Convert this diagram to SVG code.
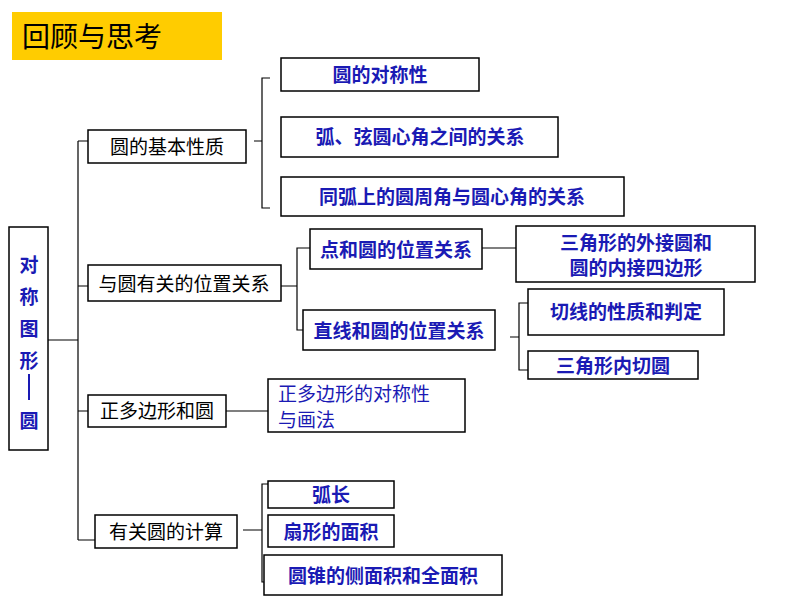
<svg xmlns="http://www.w3.org/2000/svg" width="794" height="596" viewBox="0 0 794 596">
<style>
.b{fill:#fff;stroke:#000;stroke-width:1.5}
.k{font-family:"Liberation Sans","Noto Sans CJK SC",sans-serif;font-size:19px;fill:#000;text-anchor:middle}
.u{font-family:"Liberation Sans","Noto Sans CJK SC",sans-serif;font-size:19px;font-weight:bold;fill:#1a1ab4;text-anchor:middle}
.n{font-family:"Liberation Sans","Noto Sans CJK SC",sans-serif;font-size:19px;fill:#1a1ab4}
.c{fill:none;stroke:#000;stroke-width:1.2}
</style>
<rect width="794" height="596" fill="#fff"/>
<g id="title"><rect x="12" y="12" width="210" height="48" fill="#ffcc00"/><text x="22" y="47" font-family="Liberation Sans,Noto Sans CJK SC,sans-serif" font-size="28">回顾与思考</text></g>
<g id="connectors">
<path class="c" d="M48 340H70M78 141V540M70 340H78M78 141H88M78 286H88M78 411H88M78 540H95"/>
<path class="c" d="M254 141H262M270 78H262V208H270"/>
<path class="c" d="M281 286H297M310 248H297V330H303"/>
<path class="c" d="M482 248H516"/>
<path class="c" d="M510 337H519M528 303H519V370H528"/>
<path class="c" d="M226 411H268"/>
<path class="c" d="M243 530H262M268 484H262V582H264"/>
</g>
<g id="root"><rect class="b" x="9" y="227" width="39" height="223"/>
<text class="u" font-size="23" x="29" y="272">对</text><text class="u" font-size="23" x="29" y="304">称</text><text class="u" font-size="23" x="29" y="336">图</text><text class="u" font-size="23" x="29" y="368">形</text>
<line x1="29" y1="374" x2="29" y2="400" stroke="#1a1ab4" stroke-width="2"/><text class="u" font-size="23" x="29" y="428">圆</text></g>
<g id="n1"><rect class="b" x="88" y="130" width="158" height="33"/><text class="k" x="167" y="154">圆的基本性质</text></g>
<g id="n2"><rect class="b" x="88" y="265" width="193" height="36"/><text class="k" x="184" y="291">与圆有关的位置关系</text></g>
<g id="n3"><rect class="b" x="88" y="395" width="138" height="32"/><text class="k" x="157" y="418">正多边形和圆</text></g>
<g id="n4"><rect class="b" x="95" y="515" width="142" height="33"/><text class="k" x="166" y="539">有关圆的计算</text></g>
<g id="n11"><rect class="b" x="281" y="58" width="198" height="33"/><text class="u" x="380" y="82">圆的对称性</text></g>
<g id="n12"><rect class="b" x="281" y="117" width="277" height="40"/><text class="u" x="420" y="144">弧、弦圆心角之间的关系</text></g>
<g id="n13"><rect class="b" x="281" y="177" width="343" height="39"/><text class="u" x="452" y="204">同弧上的圆周角与圆心角的关系</text></g>
<g id="n21"><rect class="b" x="310" y="229" width="172" height="40"/><text class="u" x="396" y="257">点和圆的位置关系</text></g>
<g id="n211"><rect class="b" x="516" y="226" width="239" height="56"/><text class="u" x="636" y="250">三角形的外接圆和</text><text class="u" x="636" y="275">圆的内接四边形</text></g>
<g id="n22"><rect class="b" x="303" y="310" width="192" height="40"/><text class="u" x="399" y="338">直线和圆的位置关系</text></g>
<g id="n221"><rect class="b" x="528" y="289" width="196" height="46"/><text class="u" x="626" y="319">切线的性质和判定</text></g>
<g id="n222"><rect class="b" x="528" y="351" width="170" height="28"/><text class="u" x="613" y="373">三角形内切圆</text></g>
<g id="n31"><rect class="b" x="268" y="379" width="197" height="53"/><text class="n" x="278" y="401">正多边形的对称性</text><text class="n" x="278" y="427">与画法</text></g>
<g id="n41"><rect class="b" x="268" y="481" width="126" height="27"/><text class="u" x="331" y="502">弧长</text></g>
<g id="n42"><rect class="b" x="268" y="515" width="126" height="32"/><text class="u" x="331" y="539">扇形的面积</text></g>
<g id="n43"><rect class="b" x="264" y="555" width="238" height="40"/><text class="u" x="383" y="583">圆锥的侧面积和全面积</text></g>
</svg>
